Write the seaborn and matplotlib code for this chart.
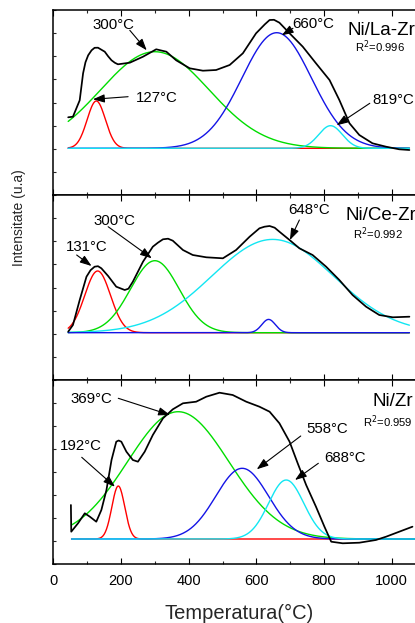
import numpy as np
import pandas as pd
import matplotlib
matplotlib.use("Agg")
import matplotlib.pyplot as plt
from matplotlib.ticker import MultipleLocator
import seaborn as sns

sns.set_theme(style="ticks")
plt.rcParams["font.family"] = ["Liberation Sans", "DejaVu Sans"]

# ---------------------------------------------------------------- data
samples = ["Ni/La-Zr", "Ni/Ce-Zr", "Ni/Zr"]
r_squared = [0.996, 0.992, 0.959]

# Experimental H2-TPR profiles (temperature in °C, signal in a.u.)
la_temp = [44, 58, 78, 88, 95, 103, 113, 122, 132, 152, 162, 172, 182, 191,
           226, 265, 304, 334, 363, 403, 442, 481, 521, 560, 599, 625, 639,
           652, 668, 698, 737, 776, 816, 845, 875, 904, 943, 983, 1022, 1052]
la_signal = [31, 31.6, 48, 75, 86, 93, 98, 100.5, 100.6, 96.6, 92, 88, 85.5,
             84, 85.6, 91.6, 99, 96.6, 88, 80, 77.6, 78.3, 83.3, 95, 115, 124,
             128.3, 128.5, 125.6, 115, 101.6, 85, 68.3, 48.3, 25, 13.3, 5, 1.6,
             -1, -1.7]

ce_temp = [44, 58, 78, 98, 110, 122, 132, 142, 162, 186, 211, 222, 235, 265,
           294, 309, 324, 339, 353, 383, 412, 452, 501, 540, 580, 609, 624,
           639, 654, 668, 698, 727, 766, 806, 845, 884, 924, 963, 1003, 1052]
ce_signal = [1, 7.7, 32.7, 56, 62.5, 66, 66.5, 64.4, 56.7, 46, 42.7, 44, 51,
             71, 86, 90, 93.4, 94, 92, 82.7, 77.7, 75.4, 74.4, 82.7, 96, 104.4,
             106, 106.7, 105, 101, 92.7, 84.4, 77.7, 66, 52.7, 37.7, 26, 17.7,
             15.4, 16]

zr_temp = [52, 53, 73, 93, 108, 127, 142, 157, 172, 186, 193, 201, 216, 235,
           250, 270, 294, 324, 353, 383, 422, 452, 491, 530, 570, 609, 639,
           668, 698, 722, 747, 776, 801, 821, 855, 904, 953, 983, 1022, 1061]
zr_signal = [34, 7.3, 15.7, 25.7, 22.3, 17.3, 29, 49, 79, 97.3, 98.5, 97.3,
             87.3, 79, 77.3, 87.3, 104, 120.7, 129.7, 135.7, 137.3, 142.3,
             146.3, 144, 137.3, 132.3, 127.3, 115.7, 97.3, 75.7, 54, 32.3, 12.3,
             -2.7, -4.3, -3.7, -1, 2.3, 7.3, 12.3]

# Gaussian deconvolution: peak centre (°C), height (a.u.), sigma (°C)
la_centres = [127, 300, 660, 819]
la_heights = [47.3, 96.6, 115.6, 22.6]
la_sigmas = [27, 160, 103, 35]

ce_centres = [131, 300, 636, 648]
ce_heights = [61.7, 72, 13.3, 93.3]
ce_sigmas = [38, 72, 20, 180]

zr_centres = [192, 369, 558, 688]
zr_heights = [53, 127.3, 70.7, 59]
zr_sigmas = [19, 150, 78, 52]

component_colours = ["#FF0000", "#00DD00", "#1414E6", "#12E6F2"]

# ------------------------------------------------------------- styling
panels = [
    dict(temp=la_temp, signal=la_signal, centres=la_centres,
         heights=la_heights, sigmas=la_sigmas, span=(44, 1052),
         ylim=(-46.7, 138.3), order=[0, 1, 2, 3],
         labels=[  # peak index, text position, arrow tail, arrow head
             (1, (179, 123), (226, 118), (276, 98), "center"),
             (0, (305, 50), (221, 51.6), (117, 49), "center"),
             (2, (769, 124), (708, 120), (675, 113), "center"),
             (3, (944, 48), (935, 45), (837, 23), "left"),
         ],
         name_pos=(868, 117.6), r2_pos=(891, 101.6)),
    dict(temp=ce_temp, signal=ce_signal, centres=ce_centres,
         heights=ce_heights, sigmas=ce_sigmas, span=(44, 1052),
         ylim=(-47.3, 137.7), order=[0, 1, 3, 2],
         labels=[
             (0, (100, 86), (69, 77.7), (113, 66.7), "center"),
             (1, (181, 112), (162, 106), (291, 74.4), "center"),
             (3, (755, 122.7), (727, 112.7), (699, 92.7), "center"),
         ],
         name_pos=(862, 117.7), r2_pos=(884, 99.4)),
    dict(temp=zr_temp, signal=zr_signal, centres=zr_centres,
         heights=zr_heights, sigmas=zr_sigmas, span=(54, 1100),
         ylim=(-25, 159), order=[0, 1, 2, 3],
         labels=[
             (1, (112, 139.7), (192, 140.7), (345, 124), "center"),
             (0, (82, 93), (84, 81.7), (182, 52.3), "center"),
             (2, (809, 109.7), (731, 103), (601, 69.7), "center"),
             (3, (861, 80.7), (783, 75.7), (714, 59), "center"),
         ],
         name_pos=(944, 137.3), r2_pos=(914, 117.3)),
]

W, H = 415, 623
fig = plt.figure(figsize=(W / 100, H / 100), dpi=100)

left_px, px_per_deg = 53.3, 0.3385
t_max = 1100
ax_w = t_max * px_per_deg / W
bounds = [(10, 195), (195, 380), (380, 564)]

axes = []
for (top, bottom) in bounds:
    ax = fig.add_axes([left_px / W, 1 - bottom / H, ax_w, (bottom - top) / H])
    axes.append(ax)

for i, (ax, p) in enumerate(zip(axes, panels)):
    grid = np.linspace(p["span"][0], p["span"][1], 600)
    frames = []
    for k in p["order"]:
        c, h, s = p["centres"][k], p["heights"][k], p["sigmas"][k]
        frames.append(pd.DataFrame({
            "T": grid,
            "signal": h * np.exp(-0.5 * ((grid - c) / s) ** 2),
            "peak": f"p{k}",
        }))
    comp = pd.concat(frames, ignore_index=True)
    palette = {f"p{k}": component_colours[k] for k in range(4)}
    sns.lineplot(data=comp, x="T", y="signal", hue="peak",
                 hue_order=[f"p{k}" for k in p["order"]], palette=palette,
                 estimator=None, sort=False, legend=False, lw=1.0, ax=ax)

    exp = pd.DataFrame({"T": p["temp"], "signal": p["signal"]})
    sns.lineplot(data=exp, x="T", y="signal", color="black", lw=1.25,
                 estimator=None, sort=False, legend=False, ax=ax)

    for k, txt_xy, tail, head, ha in p["labels"]:
        ax.text(txt_xy[0], txt_xy[1], f"{p['centres'][k]}°C", fontsize=10.8,
                ha=ha, va="center", color="black")
        ax.annotate("", xy=head, xytext=tail,
                    arrowprops=dict(arrowstyle="-|>,head_length=0.7,head_width=0.25",
                                    color="black", lw=0.8, shrinkA=0, shrinkB=0,
                                    mutation_scale=10))

    ax.text(p["name_pos"][0], p["name_pos"][1], samples[i], fontsize=13.5,
            ha="left", va="center", color="black")
    ax.text(p["r2_pos"][0], p["r2_pos"][1], f"R$^2$={r_squared[i]:.3f}",
            fontsize=8.1, ha="left", va="center", color="black")

    ax.set_xlim(0, t_max)
    ax.set_ylim(*p["ylim"])
    ax.set_yticks(np.linspace(p["ylim"][0], p["ylim"][1], 9))
    ax.set_yticklabels([])
    ax.xaxis.set_major_locator(MultipleLocator(200))
    ax.xaxis.set_minor_locator(MultipleLocator(100))
    ax.tick_params(axis="x", which="major", direction="in", length=4.5,
                   width=0.8, top=True, bottom=True, labelsize=10.5, pad=7,
                   colors="black")
    ax.tick_params(axis="x", which="minor", direction="in", length=2.5,
                   width=0.8, top=True, bottom=True)
    ax.tick_params(axis="y", which="major", direction="in", length=2.5,
                   width=0.8, left=True, right=False)
    for sp in ax.spines.values():
        sp.set_visible(True)
        sp.set_color("black")
        sp.set_linewidth(1.1)
    ax.set_xlabel("")
    ax.set_ylabel("")
    if i < 2:
        ax.set_xticklabels([])

fig.text(239.5 / W, 1 - 613 / H, "Temperatura(°C)", fontsize=14.5,
         ha="center", va="center")
fig.text(19 / W, 1 - 218 / H, "Intensitate (u.a)", fontsize=10,
         rotation=90, ha="center", va="center")

fig.savefig("out.png", dpi=100)
